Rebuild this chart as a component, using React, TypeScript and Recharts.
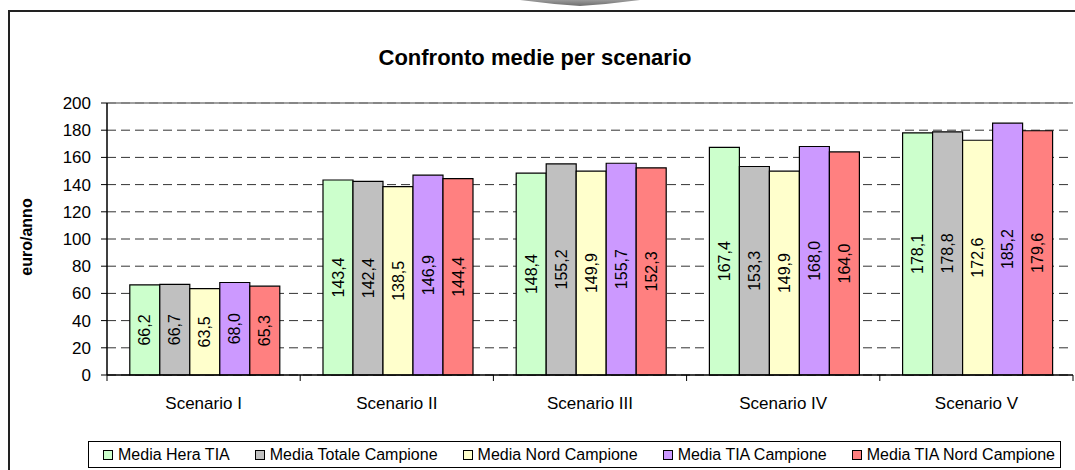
import React from 'react';
import {
  BarChart,
  Bar,
  XAxis,
  YAxis,
  CartesianGrid,
  ReferenceLine,
  LabelList,
} from 'recharts';

const categories = ['Scenario I', 'Scenario II', 'Scenario III', 'Scenario IV', 'Scenario V'];

const mediaHeraTIA = [66.2, 143.4, 148.4, 167.4, 178.1];
const mediaTotaleCampione = [66.7, 142.4, 155.2, 153.3, 178.8];
const mediaNordCampione = [63.5, 138.5, 149.9, 149.9, 172.6];
const mediaTIACampione = [68.0, 146.9, 155.7, 168.0, 185.2];
const mediaTIANordCampione = [65.3, 144.4, 152.3, 164.0, 179.6];

const yTicks = [0, 20, 40, 60, 80, 100, 120, 140, 160, 180, 200];

const series = [
  { key: 'hera', name: 'Media Hera TIA', color: '#CCFFCC', values: mediaHeraTIA },
  { key: 'totale', name: 'Media Totale Campione', color: '#C0C0C0', values: mediaTotaleCampione },
  { key: 'nord', name: 'Media Nord Campione', color: '#FFFFCC', values: mediaNordCampione },
  { key: 'tia', name: 'Media TIA Campione', color: '#CC99FF', values: mediaTIACampione },
  { key: 'tiaNord', name: 'Media TIA Nord Campione', color: '#FF8080', values: mediaTIANordCampione },
];

const data = categories.map((name, i) => {
  const row: Record<string, string | number> = { name };
  series.forEach((s) => {
    row[s.key] = s.values[i];
  });
  return row;
});

const FONT = '"Liberation Sans", Arial, sans-serif';

const fmt = (v: any) => Number(v).toFixed(1).replace('.', ',');

// Excel puts the tick marks on the category boundaries, label in the middle
const CategoryTick = (props: any) => {
  const { x, y, payload, width, visibleTicksCount, index } = props;
  const band = width / (visibleTicksCount || categories.length);
  const left = x - band / 2;
  const right = x + band / 2;
  return (
    <g>
      <line x1={left} y1={y} x2={left} y2={y + 6} stroke="#000" />
      {index === visibleTicksCount - 1 && (
        <line x1={right} y1={y} x2={right} y2={y + 6} stroke="#000" />
      )}
      <text
        x={x}
        y={y + 28}
        textAnchor="middle"
        dominantBaseline="central"
        fill="#000"
        fontSize={17}
        fontFamily={FONT}
      >
        {payload.value}
      </text>
    </g>
  );
};

export default function App() {
  return (
    <div
      style={{
        position: 'absolute',
        left: 0,
        top: 0,
        width: 1075,
        height: 470,
        overflow: 'hidden',
        background: '#fff',
        fontFamily: FONT,
      }}
    >
      {/* piece of the surrounding document */}
      <svg style={{ position: 'absolute', left: 0, top: 0 }} width={1075} height={12}>
        <defs>
          <linearGradient id="arrowGrad" x1="0" y1="0" x2="0" y2="1">
            <stop offset="0%" stopColor="#9a9a9a" />
            <stop offset="100%" stopColor="#6e6e6e" />
          </linearGradient>
        </defs>
        <path d="M520,0 L640,0 Q610,4 580,6 Q550,4 520,0 Z" fill="url(#arrowGrad)" />
      </svg>

      {/* chart frame */}
      <div
        style={{
          position: 'absolute',
          left: 8,
          top: 10,
          width: 1100,
          height: 500,
          borderLeft: '2px solid #222',
          borderTop: '2px solid #222',
        }}
      />

      <div
        style={{
          position: 'absolute',
          left: 0,
          width: 1070,
          top: 45,
          textAlign: 'center',
          fontWeight: 'bold',
          fontSize: 22,
          color: '#000',
        }}
      >
        Confronto medie per scenario
      </div>

      <div
        style={{
          position: 'absolute',
          left: 27,
          top: 237,
          transform: 'translate(-50%, -50%) rotate(-90deg)',
          fontWeight: 'bold',
          fontSize: 16,
          whiteSpace: 'nowrap',
          color: '#000',
        }}
      >
        euro/anno
      </div>

      <div style={{ position: 'absolute', left: 0, top: 0 }}>
        <BarChart
          width={1075}
          height={470}
          data={data}
          margin={{ top: 103, right: 2, left: 0, bottom: 0 }}
          barCategoryGap="11.8%"
          barGap={0}
        >
          <CartesianGrid vertical={false} stroke="#333" strokeDasharray="9 5" />
          <ReferenceLine y={200} stroke="#808080" strokeWidth={1.5} />
          <XAxis
            dataKey="name"
            height={95}
            interval={0}
            tickLine={false}
            tickSize={0}
            tickMargin={0}
            axisLine={{ stroke: '#000', strokeWidth: 1.5 }}
            tick={<CategoryTick />}
          />
          <YAxis
            width={107}
            domain={[0, 200]}
            ticks={yTicks}
            interval={0}
            tickSize={6}
            tickMargin={10}
            axisLine={{ stroke: '#000', strokeWidth: 1.5 }}
            tickLine={{ stroke: '#000' }}
            tick={{ fill: '#000', fontSize: 17, fontFamily: FONT }}
          />
          {series.map((s) => (
            <Bar
              key={s.key}
              dataKey={s.key}
              name={s.name}
              fill={s.color}
              stroke="#000"
              strokeWidth={1.2}
              isAnimationActive={false}
            >
              <LabelList
                dataKey={s.key}
                position="center"
                angle={-90}
                formatter={fmt}
                style={{ fill: '#000', fontSize: 16, fontFamily: FONT }}
              />
            </Bar>
          ))}
        </BarChart>
      </div>

      {/* legend */}
      <div
        style={{
          position: 'absolute',
          left: 88,
          top: 441,
          width: 973,
          height: 27,
          border: '1px solid #000',
          display: 'flex',
          alignItems: 'center',
          paddingLeft: 14,
          boxSizing: 'border-box',
          fontSize: 16,
          color: '#000',
        }}
      >
        {series.map((s, i) => (
          <div
            key={s.key}
            style={{
              display: 'flex',
              alignItems: 'center',
              marginLeft: i === 0 ? 0 : 25,
              whiteSpace: 'nowrap',
            }}
          >
            <span
              style={{
                display: 'inline-block',
                width: 8,
                height: 8,
                background: s.color,
                border: '1px solid #000',
                marginRight: 5,
              }}
            />
            <span>{s.name}</span>
          </div>
        ))}
      </div>
    </div>
  );
}
